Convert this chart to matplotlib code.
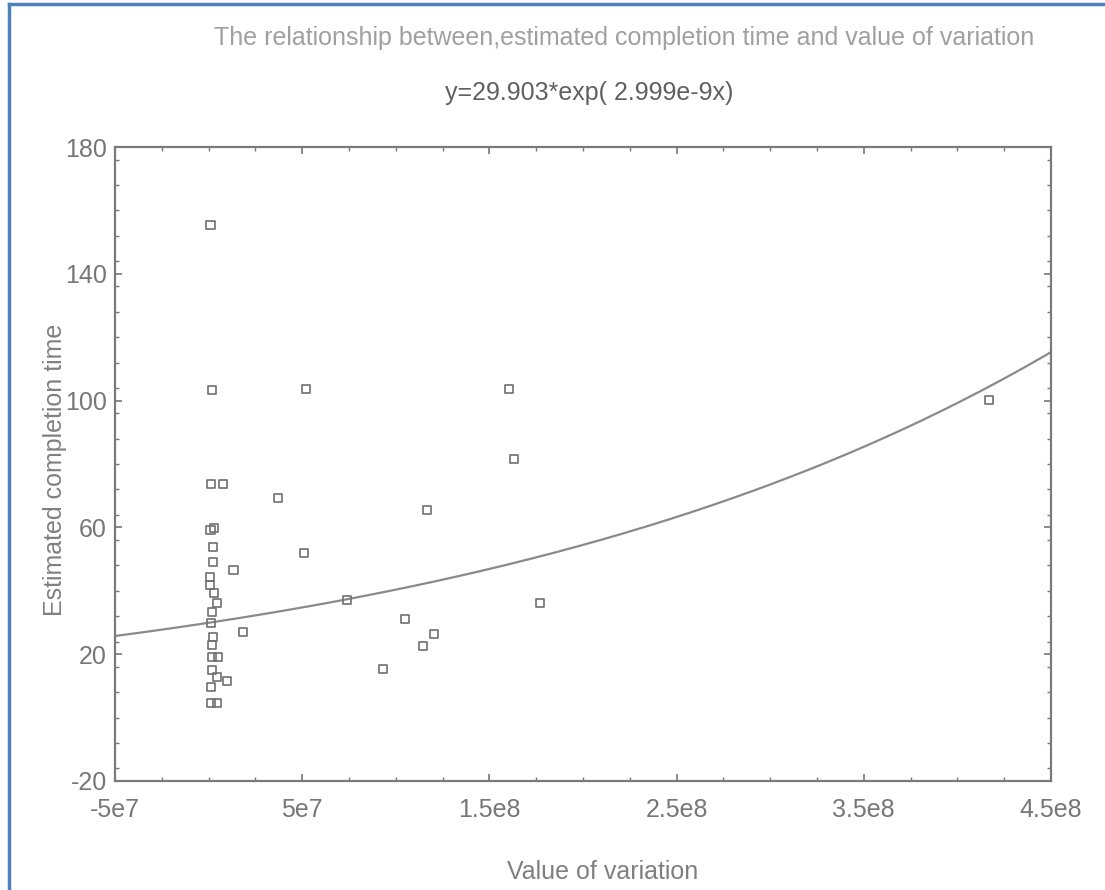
import numpy as np
import matplotlib.pyplot as plt
from matplotlib.lines import Line2D
from matplotlib.ticker import MultipleLocator

plt.rcParams['font.family'] = ['Liberation Sans Narrow', 'Liberation Sans', 'DejaVu Sans']
plt.rcParams['axes.unicode_minus'] = False

# 数据点 (value of variation, estimated completion time)
value_of_variation = [
    1.0e6, 1.8e6, 5.2e7, 1.605e8, 1.633e8, 1.167e8, 5.1e7, 7.4e7, 1.05e8,
    1.204e8, 1.143e8, 9.32e7, 1.769e8, 3.72e7, 4.17e8,
    1.1e6, 7.5e6, 1.0e6, 3.0e6, 2.4e6, 2.1e6, 1.33e7, 0.9e6, 0.7e6, 2.8e6, 4.3e6,
    2.0e6, 1.3e6, 1.83e7, 2.2e6, 1.6e6, 5.1e6, 1.9e6, 1.8e6, 4.3e6, 9.6e6, 1.5e6, 1.3e6, 4.5e6,
]
completion_time = [
    155.4, 103.3, 103.7, 103.7, 81.6, 65.5, 51.9, 37.1, 31.1,
    26.4, 22.6, 15.3, 36.2, 69.3, 100.2,
    73.7, 73.7, 59.2, 59.8, 53.8, 49.1, 46.6, 44.4, 41.8, 39.3, 36.2,
    33.3, 29.8, 27.0, 25.4, 22.9, 19.1, 19.1, 15.0, 12.8, 11.5, 9.7, 4.6, 4.6,
]

# 拟合曲线参数
a_fit = 29.903
b_fit = 2.999e-9

x_ticks = [-5e7, 5e7, 1.5e8, 2.5e8, 3.5e8, 4.5e8]
x_tick_labels = ['-5e7', '5e7', '1.5e8', '2.5e8', '3.5e8', '4.5e8']
y_ticks = [-20, 20, 60, 100, 140, 180]

fig = plt.figure(figsize=(11.05, 8.9), dpi=100)
ax = fig.add_axes([0.1041, 0.1225, 0.847, 0.7123])

ax.scatter(value_of_variation, completion_time, marker='s', s=34,
           facecolors='none', edgecolors='#707070', linewidths=1.2, zorder=3)

xs = np.linspace(-5e7, 4.5e8, 300)
ax.plot(xs, a_fit * np.exp(b_fit * xs), color='#8a8a8a', lw=1.6)

ax.set_xlim(-5e7, 4.5e8)
ax.set_ylim(-20, 180)
ax.set_xticks(x_ticks)
ax.set_xticklabels(x_tick_labels)
ax.set_yticks(y_ticks)
ax.xaxis.set_minor_locator(MultipleLocator(2.5e7))
ax.yaxis.set_minor_locator(MultipleLocator(8))
ax.tick_params(which='both', direction='in', top=True, right=True,
               color='#777777', labelcolor='#777777', labelsize=18)
ax.tick_params(axis='x', which='major', pad=12)
ax.tick_params(axis='y', which='major', pad=6)
ax.tick_params(which='major', length=5, width=1.2)
ax.tick_params(which='minor', length=3, width=1.0)
for s in ax.spines.values():
    s.set_color('#7a7a7a')
    s.set_linewidth(1.6)

fig.text(0.565, 0.957, 'The relationship between,estimated completion time and value of variation',
         ha='center', va='center', fontsize=18, color='#a0a0a0')
fig.text(0.533, 0.8955, 'y=29.903*exp( 2.999e-9x)',
         ha='center', va='center', fontsize=18, color='#606060')
fig.text(0.545, 0.02, 'Value of variation', ha='center', va='center',
         fontsize=18, color='#808080')
fig.text(0.05, 0.472, 'Estimated completion time', ha='center', va='center',
         rotation=90, fontsize=18, color='#808080')

# 蓝色边框
fig.add_artist(Line2D([0.008, 0.008], [0.0, 0.995], transform=fig.transFigure,
                      color='#4f81bd', lw=2.5))
fig.add_artist(Line2D([0.008, 1.0], [0.995, 0.995], transform=fig.transFigure,
                      color='#4f81bd', lw=2.5))

fig.savefig('out.png', dpi=100)
